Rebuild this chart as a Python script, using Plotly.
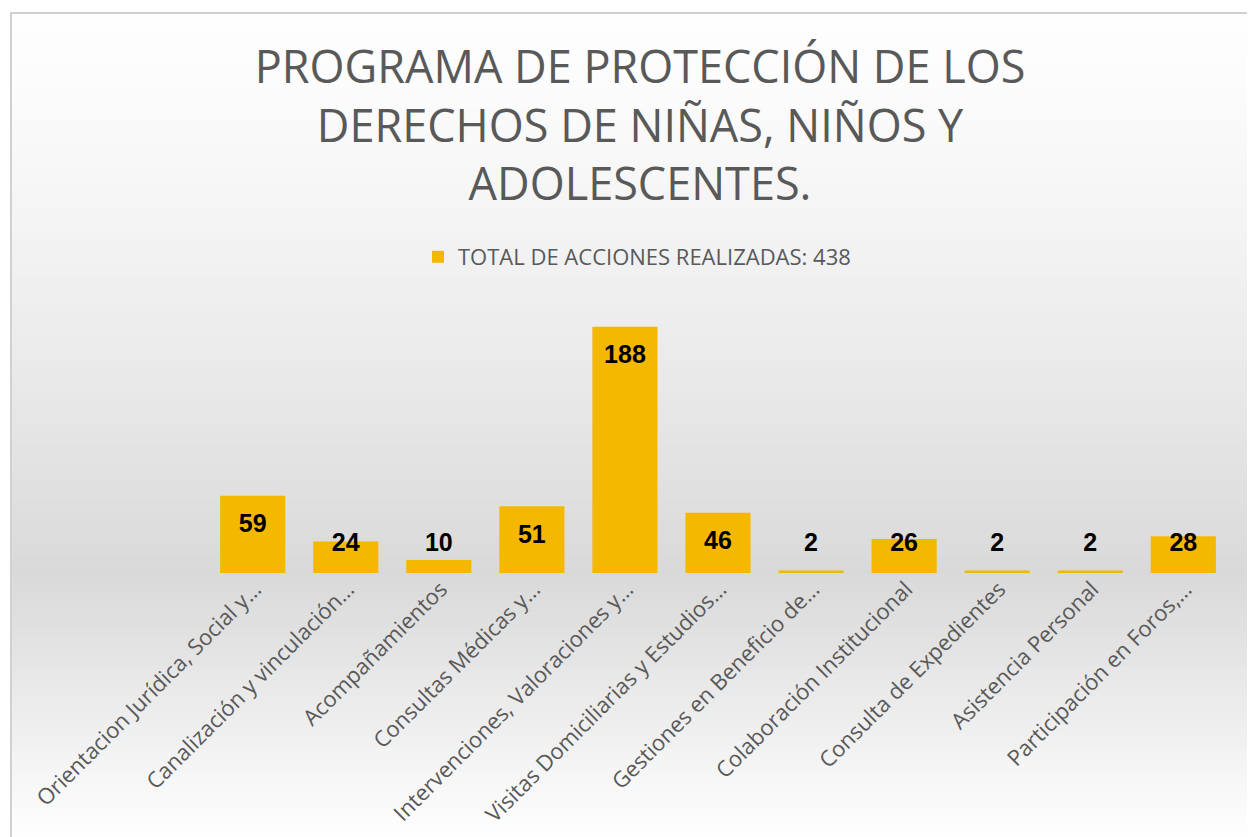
import plotly.graph_objects as go
import numpy as np

categories = [
    "Orientacion Jurídica, Social y…",
    "Canalización y vinculación…",
    "Acompañamientos",
    "Consultas Médicas y…",
    "Intervenciones, Valoraciones y…",
    "Visitas Domiciliarias y Estudios…",
    "Gestiones en Beneficio de…",
    "Colaboración Institucional",
    "Consulta de Expedientes",
    "Asistencia Personal",
    "Participación en Foros,…",
]
values = [59, 24, 10, 51, 188, 46, 2, 26, 2, 2, 28]
series_name = "TOTAL DE ACCIONES REALIZADAS: 438"
title_text = "PROGRAMA DE PROTECCIÓN DE LOS<br>DERECHOS DE NIÑAS, NIÑOS Y<br>ADOLESCENTES."

# page body has an 8px margin: work in reference-window pixels and convert
OFF = 8
W, H = 1255 - OFF, 837 - OFF
L = 201 - OFF
R = W - (1235 - OFF)
T = 311 - OFF
B = H - (573 - OFF)
PW, PH = W - L - R, H - T - B

def px_x(px):
    return (px - OFF - L) / PW

def px_y(py):
    return ((H - B) - (py - OFF)) / PH

vals = np.array(values, dtype=float)
label_y = np.maximum(vals - 23, 21.5)

fig = go.Figure()
fig.add_trace(go.Bar(
    x=categories, y=values, name=series_name,
    marker=dict(color="#F4B800", line=dict(width=0)),
    showlegend=True,
))
fig.add_trace(go.Scatter(
    x=categories, y=label_y, mode="text", text=[str(v) for v in values],
    textfont=dict(family="Liberation Sans", size=25, color="#000000", weight="bold"),
    showlegend=False, hoverinfo="skip",
))

# background gradient
shapes = []
top, mid, bot = 13, 575, 840
n1, n2 = 60, 35
def grad(c0, c1, t):
    return int(round(c0 + (c1 - c0) * t))
def strip(y0, y1, g):
    shapes.append(dict(type="rect", xref="paper", yref="paper", x0=px_x(11), x1=px_x(1262),
                       y0=px_y(y1 + 1.0), y1=px_y(y0), fillcolor=f"rgb({g},{g},{g})",
                       line=dict(width=0), layer="below"))
for i in range(n1):
    y0 = top + (mid - top) * i / n1
    y1 = top + (mid - top) * (i + 1) / n1
    strip(y0, y1, grad(254, 217, ((i + 0.5) / n1) ** 1.3))
for i in range(n2):
    y0 = mid + (bot - mid) * i / n2
    y1 = mid + (bot - mid) * (i + 1) / n2
    strip(y0, y1, grad(217, 255, (i + 0.5) / n2))
# border
shapes.append(dict(type="line", xref="paper", yref="paper", x0=px_x(10), x1=px_x(1262),
                   y0=px_y(13), y1=px_y(13), line=dict(color="#D0D0D0", width=2), layer="below"))
shapes.append(dict(type="line", xref="paper", yref="paper", x0=px_x(11), x1=px_x(11),
                   y0=px_y(13), y1=px_y(840), line=dict(color="#D0D0D0", width=2), layer="below"))

fig.update_layout(
    width=W, height=H,
    margin=dict(l=L, r=R, t=T, b=B, autoexpand=False),
    paper_bgcolor="white",
    plot_bgcolor="rgba(0,0,0,0)",
    bargap=0.30,
    shapes=shapes,
    title=dict(text=title_text, x=(640 - OFF) / W, xanchor="center", xref="container",
               y=1 - (83 - OFF) / H, yanchor="middle", yref="container",
               font=dict(family="Open Sans", size=45, color="#595959")),
    legend=dict(orientation="h", x=px_x(637), xanchor="center", y=px_y(257), yanchor="middle",
                font=dict(family="Open Sans", size=22, color="#595959"),
                bgcolor="rgba(0,0,0,0)", itemwidth=30),
    xaxis=dict(tickangle=-45, showgrid=False, showline=False, zeroline=False, ticks="",
               tickfont=dict(family="Open Sans", size=22, color="#595959"),
               ticklabelshift=2, ticklabelstandoff=-2),
    yaxis=dict(range=[0, 200], visible=False, showgrid=False, zeroline=False),
    showlegend=True,
)

fig.write_html("out.html")
